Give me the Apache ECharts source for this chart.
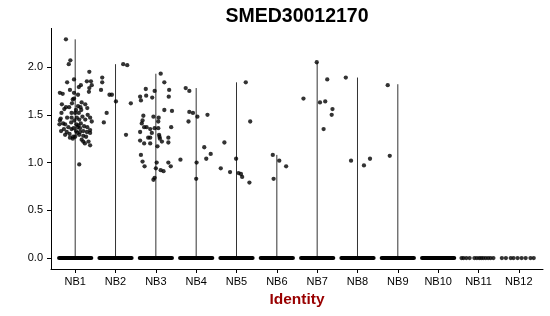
<!DOCTYPE html>
<html><head><meta charset="utf-8">
<script src="https://cdn.jsdelivr.net/npm/echarts@6/dist/echarts.min.js"></script>
<style>html,body{margin:0;padding:0;background:#fff}#c{width:550px;height:316px}</style>
</head><body><div id="c"></div>
<script>
const chartTitle = 'SMED30012170';
const xTitle = 'Identity';
const categories = ['NB1','NB2','NB3','NB4','NB5','NB6','NB7','NB8','NB9','NB10','NB11','NB12'];
const yTicks = [0, 0.5, 1.0, 1.5, 2.0];
// top of each violin (max expression per identity)
const violinMax = [2.29, 2.03, 1.93, 1.78, 1.84, 1.08, 2.05, 1.89, 1.82, 0, 0, 0];
// identities whose zero-valued cells form a dense jittered band
const zeroBandGroups = ['NB1','NB2','NB3','NB4','NB5','NB6','NB7','NB8','NB9','NB10'];
// sparse zero-valued cells: jitter offsets (category units)
const nb11ZeroJitter = [-0.42,-0.37,-0.30,-0.22,-0.10,-0.04,0.02,0.07,0.12,0.18,0.24,0.30,0.37];
const nb12ZeroJitter = [-0.42,-0.32,-0.20,-0.13,-0.03,0.07,0.17,0.29,0.37];
// non-zero cells: [jitter offset, expression]
const nb1Points = [[-0.23,2.29],[-0.12,2.07],[-0.16,2.03],[-0.20,1.84],[-0.03,1.87],[0.35,1.95],[0.14,1.81],[0.09,1.79],[0.29,1.85],[0.39,1.85],[0.41,1.81],[0.35,1.78],[-0.38,1.73],[-0.31,1.72],[-0.13,1.76],[-0.03,1.73],[0.07,1.71],[-0.03,1.67],[0.34,1.74],[-0.06,1.66],[-0.33,1.61],[-0.23,1.58],[-0.15,1.58],[-0.27,1.56],[0.07,1.59],[0.25,1.61],[0.30,1.57],[0.13,1.58],[0.15,1.55],[-0.09,1.52],[0.0,1.52],[0.09,1.52],[-0.36,1.46],[-0.38,1.44],[-0.09,1.47],[0.04,1.47],[0.18,1.48],[0.37,1.47],[0.41,1.43],[-0.39,1.40],[-0.25,1.40],[-0.17,1.37],[0.08,1.39],[0.12,1.36],[0.30,1.37],[0.37,1.34],[-0.35,1.33],[-0.21,1.32],[-0.09,1.35],[0.02,1.33],[0.20,1.33],[0.37,1.31],[-0.25,1.29],[-0.13,1.26],[-0.06,1.25],[0.10,1.29],[0.16,1.24],[0.27,1.27],[0.33,1.22],[0.37,1.18],[0.20,1.22],[0.05,1.31],[0.0,1.27],[0.12,1.32],[0.29,1.32],[-0.30,1.41],[-0.05,1.27],[0.24,1.20],[0.10,0.98],[-0.10,1.42],[0.03,1.40],[0.06,1.37],[-0.02,1.44],[0.10,1.45],[0.14,1.41],[-0.14,1.30],[0.22,1.38],[-0.28,1.35],[0.25,1.45],[-0.20,1.47],[0.02,1.55],[0.16,1.63],[-0.08,1.62],[0.31,1.50],[-0.34,1.52],[0.20,1.28],[-0.04,1.36]];
const nb2Points = [[-0.33,1.89],[-0.33,1.84],[-0.36,1.76],[-0.15,1.71],[-0.09,1.71],[0.01,1.64],[-0.22,1.52],[-0.29,1.42],[0.26,1.29],[0.38,1.62],[0.19,2.03],[0.29,2.02]];
const nb3Points = [[0.12,1.93],[0.21,1.84],[-0.25,1.77],[0.33,1.76],[-0.39,1.69],[-0.37,1.65],[-0.24,1.70],[-0.09,1.68],[-0.03,1.75],[0.32,1.69],[0.21,1.55],[0.40,1.54],[-0.31,1.49],[-0.06,1.48],[0.07,1.47],[-0.33,1.44],[0.06,1.43],[-0.35,1.41],[-0.29,1.37],[-0.23,1.37],[-0.14,1.35],[-0.03,1.36],[0.06,1.36],[0.38,1.37],[-0.39,1.32],[-0.10,1.31],[-0.19,1.26],[0.09,1.27],[0.31,1.26],[-0.14,1.26],[0.08,1.29],[0.10,1.25],[-0.39,1.23],[-0.29,1.20],[-0.14,1.20],[0.04,1.17],[0.15,1.22],[0.31,1.21],[-0.37,1.08],[-0.33,1.01],[-0.28,0.96],[0.02,1.00],[0.0,0.94],[0.12,0.92],[0.19,0.91],[0.31,1.00],[0.37,0.96],[-0.06,0.82],[-0.03,0.84]];
const nb4Points = [[-0.26,1.78],[-0.17,1.75],[-0.17,1.53],[-0.08,1.52],[-0.19,1.43],[0.03,1.48],[0.28,1.50],[0.20,1.16],[0.36,1.09],[-0.39,1.03],[0.01,1.00],[0.0,0.83],[0.25,1.04]];
const nb5Points = [[-0.30,1.21],[-0.01,1.04],[-0.39,0.94],[-0.16,0.90],[0.05,0.89],[0.11,0.88],[0.14,0.85],[0.32,0.79],[0.23,1.84],[0.34,1.43]];
const nb6Points = [[-0.10,1.08],[0.06,1.02],[0.23,0.96],[-0.08,0.83]];
const nb7Points = [[-0.01,2.05],[0.25,1.87],[-0.34,1.67],[0.07,1.63],[0.20,1.64],[0.38,1.56],[0.36,1.50],[0.16,1.35]];
const nb8Points = [[-0.29,1.89],[-0.16,1.02],[0.16,0.97],[0.31,1.04]];
const nb9Points = [[-0.25,1.81],[-0.20,1.07]];
const nb10Points = [];
const nb11Points = [];
const nb12Points = [];

const groupPoints = [nb1Points,nb2Points,nb3Points,nb4Points,nb5Points,nb6Points,nb7Points,nb8Points,nb9Points,nb10Points,nb11Points,nb12Points];
const scatterData = [];
groupPoints.forEach((pts, i) => pts.forEach(p => scatterData.push([i + 1 + p[0], p[1]])));
const sparseZero = [];
nb11ZeroJitter.forEach(j => sparseZero.push([11 + j, 0]));
nb12ZeroJitter.forEach(j => sparseZero.push([12 + j, 0]));
const violinData = violinMax.map((m, i) => [i + 1, m]).filter(d => d[1] > 0);
const bandData = zeroBandGroups.map(g => [categories.indexOf(g) + 1, 0]);
const catIdx = categories.map((c, i) => i + 1);

const FONT = '"Liberation Sans", Arial, sans-serif';
const chart = echarts.init(document.getElementById('c'), null, {renderer: 'canvas'});
chart.setOption({
  animation: false,
  backgroundColor: '#fff',
  grid: {left: 51, right: 7, top: 28.4, bottom: 47},
  graphic: [{
    type: 'text', x: 297, y: 7,
    style: {text: chartTitle, font: 'bold 19.5px ' + FONT, fill: '#000', textAlign: 'center', textVerticalAlign: 'top'}
  }],
  xAxis: {
    type: 'value', min: 0.4, max: 12.6,
    axisLine: {onZero: false, lineStyle: {color: '#000', width: 1}},
    axisTick: {customValues: catIdx, length: 4, lineStyle: {color: '#000'}},
    axisLabel: {customValues: catIdx, formatter: v => categories[Math.round(v) - 1], color: '#000', fontSize: 11, fontFamily: FONT, margin: 7},
    splitLine: {show: false},
    name: xTitle, nameLocation: 'middle', nameGap: 22,
    nameTextStyle: {color: '#990000', fontWeight: 'bold', fontSize: 15.5, fontFamily: FONT}
  },
  yAxis: {
    type: 'value', min: -0.1145, max: 2.4045,
    axisLine: {show: true, lineStyle: {color: '#000', width: 1}},
    axisTick: {show: true, customValues: yTicks, length: 4, lineStyle: {color: '#000'}},
    axisLabel: {customValues: yTicks, formatter: v => v.toFixed(1), color: '#000', fontSize: 11, fontFamily: FONT, margin: 8},
    splitLine: {show: false}
  },
  series: [
    {
      type: 'custom', data: violinData, encode: {x: 0, y: 1}, z: 1,
      renderItem: (params, api) => {
        const a = api.coord([api.value(0), 0]);
        const b = api.coord([api.value(0), api.value(1)]);
        return {type: 'line', shape: {x1: a[0], y1: a[1], x2: b[0], y2: b[1]}, style: {stroke: '#333', lineWidth: 1}};
      }
    },
    {
      type: 'custom', data: bandData, encode: {x: 0, y: 1}, z: 2,
      renderItem: (params, api) => {
        const g = api.value(0);
        const a = api.coord([g - 0.4, 0]);
        const b = api.coord([g + 0.4, 0]);
        return {type: 'line', shape: {x1: a[0], y1: a[1], x2: b[0], y2: b[1]}, style: {stroke: '#000', lineWidth: 4, lineCap: 'round'}};
      }
    },
    {type: 'scatter', data: sparseZero, symbolSize: 4.3, itemStyle: {color: '#000'}, z: 3},
    {type: 'scatter', data: scatterData, symbolSize: 4.3, itemStyle: {color: '#000'}, z: 3}
  ]
});
</script></body></html>
